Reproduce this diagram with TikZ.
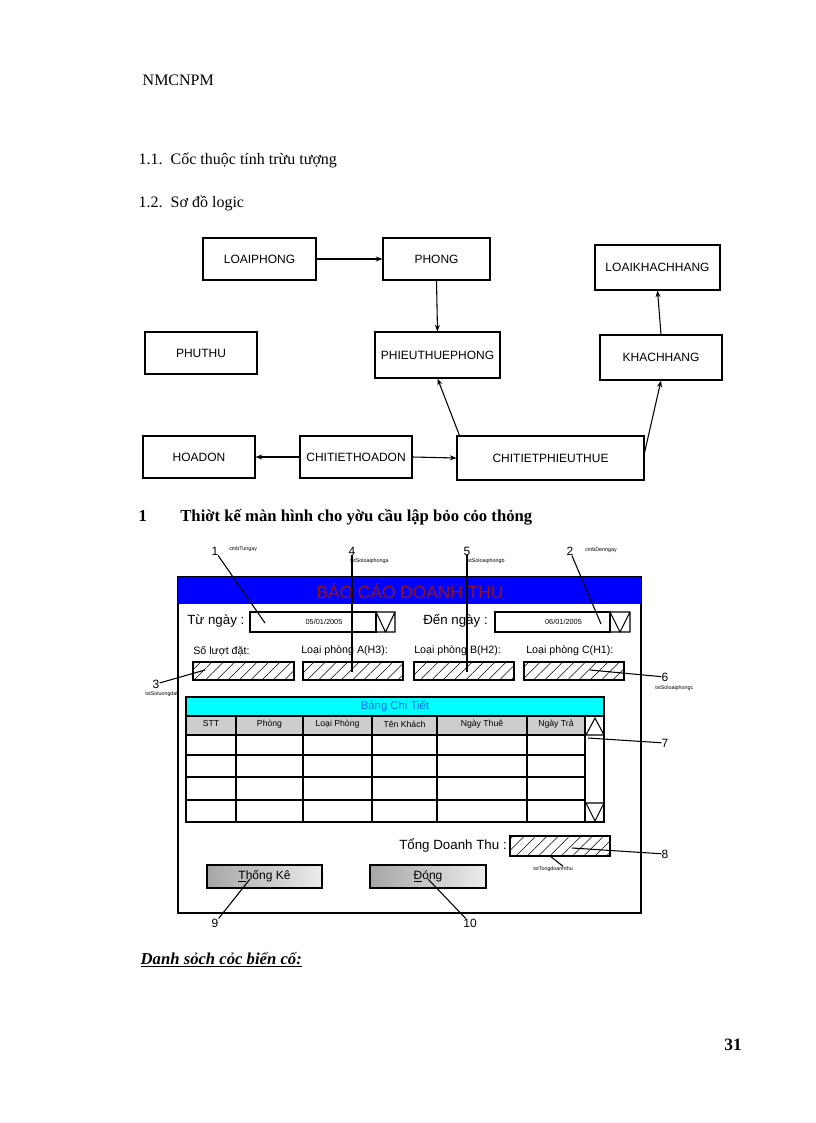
\documentclass[tikz,border=0pt]{standalone}
\usepackage{fontspec}
\setmainfont{Liberation Serif}
\newfontfamily\sans{Liberation Sans}
\usetikzlibrary{patterns,patterns.meta,arrows.meta}
\definecolor{titlered}{RGB}{150,20,20}
\definecolor{hdrgray}{RGB}{205,205,205}
\definecolor{cyn}{RGB}{0,255,255}
\begin{document}
\begin{tikzpicture}[x=0.75pt,y=-0.75pt,
 ent/.style={draw,thick,font=\sans\fontsize{9}{10}\selectfont,inner sep=0pt},
 arr/.style={-{Stealth[length=5pt]},thick},
 hatch/.style={draw,thick,pattern={Lines[angle=45,distance=6pt,line width=0.4pt]}},
 tiny/.style={font=\sans\fontsize{4}{4}\selectfont,inner sep=0pt,anchor=west},
 num/.style={font=\sans\fontsize{9}{9}\selectfont,inner sep=0pt},
 lab/.style={font=\sans\fontsize{8}{8}\selectfont,inner sep=0pt,anchor=west},
 btn/.style={draw,thick,left color=gray!70,right color=gray!15,font=\sans\fontsize{9}{9}\selectfont}]
\useasboundingbox[fill=white] (0,0) rectangle (816,1123);
\node[anchor=west,font=\fontsize{12}{13}\selectfont] (hd) at (138,80) {NMCNPM};
\node[anchor=west,font=\fontsize{12}{13}\selectfont] (h11) at (134,160) {1.1.\ \ Cốc thuộc tính trừu tượng};
\node[anchor=west,font=\fontsize{12}{13}\selectfont] (h12) at (134,203) {1.2.\ \ Sơ đồ logic};
% ER
\node[ent,minimum width=113*0.75pt,minimum height=42*0.75pt] (lp) at (259.5,259) {LOAIPHONG};
\node[ent,minimum width=107*0.75pt,minimum height=42*0.75pt] (p) at (436.5,259) {PHONG};
\node[ent,minimum width=125*0.75pt,minimum height=45*0.75pt] (lkh) at (657.5,267.5) {LOAIKHACHHANG};
\node[ent,minimum width=112*0.75pt,minimum height=42*0.75pt] (pt) at (201,353) {PHUTHU};
\node[ent,minimum width=125*0.75pt,minimum height=46*0.75pt] (ptp) at (437.5,355) {PHIEUTHUEPHONG};
\node[ent,minimum width=122*0.75pt,minimum height=45*0.75pt] (kh) at (661,357.5) {KHACHHANG};
\node[ent,minimum width=112*0.75pt,minimum height=42*0.75pt] (hd2) at (199,457) {HOADON};
\node[ent,minimum width=112*0.75pt,minimum height=42*0.75pt] (cthd) at (356,457) {CHITIETHOADON};
\node[ent,minimum width=187*0.75pt,minimum height=44*0.75pt] (ctpt) at (550.5,458) {CHITIETPHIEUTHUE};
\draw[arr] (lp.east) -- (p.west);
\draw[arr] (p.south) -- (ptp.north);
\draw[arr] (kh.north) -- (lkh.south);
\draw[arr] (cthd.west) -- (hd2.east);
\draw[arr] (cthd.east) -- (ctpt.west);
\draw[arr] (ctpt.north west) ++(3,0) -- (ptp.south);
\coordinate (c1) at (644,455);
\draw[arr] (c1) -- (kh.south);
\node[anchor=west,font=\bfseries\fontsize{12.5}{13}\selectfont] (h1) at (134,517) {1\hspace{2em}Thiờt kế màn hình cho yờu cầu lập bỏo cỏo thỏng};
% form
\draw[thick] (178,577) rectangle (641,913);
\fill[blue] (178,577) rectangle (641,604);
\node[text=titlered,font=\sans\fontsize{13}{13}\selectfont] (title) at (410,591) {BÁO CÁO DOANH THU};
\node[anchor=west,font=\sans\fontsize{10}{10}\selectfont,inner sep=0pt] (tn) at (187,621) {Từ ngày :};
\node[draw,thick,minimum width=126*0.75pt,minimum height=20*0.75pt,font=\sans\fontsize{5.5}{6}\selectfont] (tubox) at (313,622) {\hspace{3em}05/01/2005};
\draw[thick] (376,612) rectangle (395,632) (376,612) -- (385.5,632) -- (395,612);
\node[anchor=west,font=\sans\fontsize{10}{10}\selectfont,inner sep=0pt] (dn) at (423,621) {Đến ngày :};
\node[draw,thick,minimum width=115*0.75pt,minimum height=20*0.75pt,font=\sans\fontsize{5.5}{6}\selectfont] (denbox) at (552.5,622) {\hspace{3em}06/01/2005};
\draw[thick] (610,612) rectangle (630,632) (610,612) -- (620,632) -- (630,612);
\node[lab] (l1) at (193,651) {Số lượt đặt:};
\node[lab] (l2) at (301,651) {Loại phòng A(H3):};
\node[lab] (l3) at (414,651) {Loại phòng B(H2):};
\node[lab] (l4) at (526,651) {Loại phòng C(H1):};
\draw[hatch] (193,662) rectangle (294,680);
\draw[hatch] (303,662) rectangle (403,680);
\draw[hatch] (414,662) rectangle (514,680);
\draw[hatch] (524,662) rectangle (624,680);
% table
\fill[cyn] (186,697) rectangle (604,716);
\draw[thick] (186,697) rectangle (604,716);
\node[text=blue!60!cyan,font=\sans\fontsize{8.5}{9}\selectfont] (bct) at (395,706) {Bảng Chi Tiết};
\fill[hdrgray] (186,716) rectangle (585,735);
\draw[thick] (186,716) rectangle (604,822);
\foreach \x in {236,303,372,437,527,585} \draw[thick] (\x,716) -- (\x,822);
\foreach \y in {735,755,777,800} \draw[thick] (186,\y) -- (585,\y);
\draw[thick] (586,735) -- (595,718) -- (604,735) (586,735) -- (604,735);
\draw[thick] (586,803) -- (595,821) -- (604,803) (586,803) -- (604,803);
\foreach \c/\t in {211/STT,269.5/Phòng,337.5/Loại Phòng,404.5/Tên Khách,482/Ngày Thuê,556/Ngày Trả}
  \node[font=\sans\fontsize{6.5}{7}\selectfont,inner sep=0pt] at (\c,724) {\t};
\node[anchor=east,font=\sans\fontsize{10}{10}\selectfont,inner sep=0pt] (tdt) at (507,845) {Tổng Doanh Thu :};
\draw[hatch] (510,836) rectangle (610,856);
\node[btn,minimum width=115*0.75pt,minimum height=23*0.75pt] (tk) at (264.5,876.5) {\underline{T}hống Kê};
\node[btn,minimum width=116*0.75pt,minimum height=23*0.75pt] (dong) at (428,876.5) {\underline{Đ}óng};
% callouts
\node[num] (n1) at (215,551) {1}; \node[tiny] at (229,549) {cmbTungay};
\coordinate (e1) at (265,623); \draw[thick] (n1) -- (e1);
\node[num] (n4) at (352,551) {4}; \node[tiny] at (350,561) {txtSoloaiphonga};
\coordinate (e4) at (352,672); \draw[thick] (n4) -- (e4);
\node[num] (n5) at (467,551) {5}; \node[tiny] at (466,561) {txtSoloaiphongb};
\coordinate (e5) at (467,672); \draw[thick] (n5) -- (e5);
\node[num] (n2) at (570,551) {2}; \node[tiny] at (585,550) {cmbDenngay};
\coordinate (e2) at (601,624); \draw[thick] (n2) -- (e2);
\node[num] (n3) at (156,684) {3}; \node[tiny] at (145,694) {txtSoluongdat};
\coordinate (e3) at (205,670); \draw[thick] (n3) -- (e3);
\node[num] (n6) at (665,677) {6}; \node[tiny] at (655,688) {txtSoloaiphongc};
\coordinate (e6) at (590,670); \draw[thick] (n6) -- (e6);
\node[num] (n7) at (665,743) {7};
\coordinate (e7) at (588,738); \draw[thick] (n7) -- (e7);
\node[num] (n8) at (665,854) {8};
\coordinate (e8) at (572,848); \draw[thick] (n8) -- (e8);
\node[tiny] (t8) at (533,869) {txtTongdoanhthu};
\coordinate (e8b) at (550,856); \draw[thick] (t8.north) ++(10,0) -- (e8b);
\node[num] (n9) at (215,923) {9};
\coordinate (e9) at (250,879); \draw[thick] (n9) -- (e9);
\node[num] (n10) at (470,923) {10};
\coordinate (e10) at (428,879); \draw[thick] (n10) -- (e10);
\node[anchor=west,font=\bfseries\itshape\fontsize{12.5}{13}\selectfont] (ds) at (136,960) {\underline{Danh sỏch cỏc biến cố:}};
\node[font=\bfseries\fontsize{13}{13}\selectfont] (pg) at (733,1045) {31};
\end{tikzpicture}
\end{document}
